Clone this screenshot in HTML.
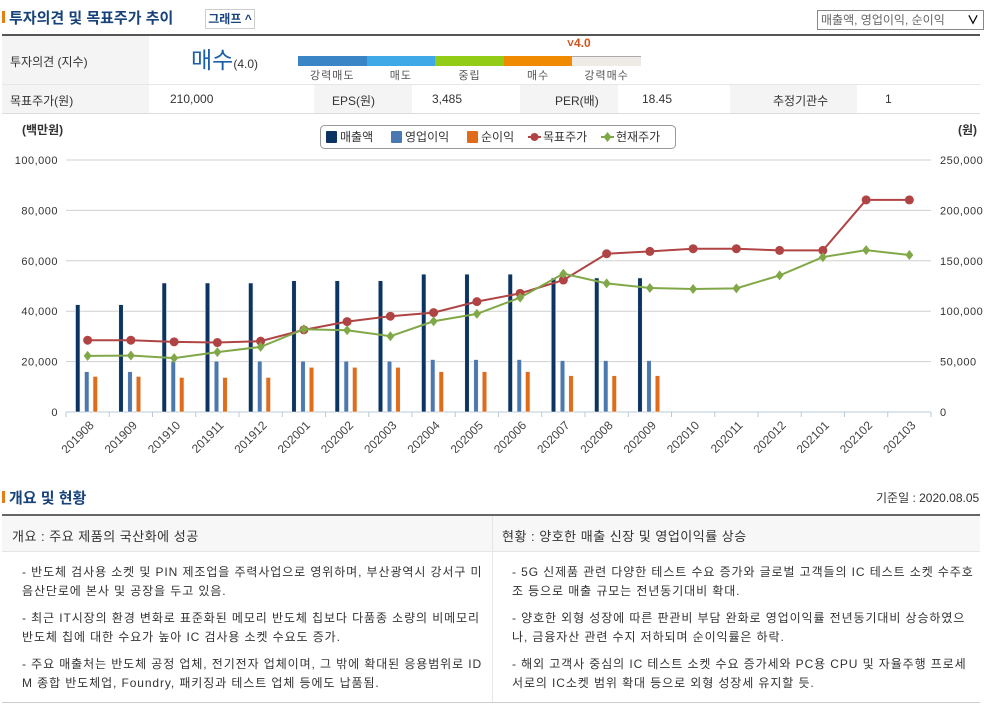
<!DOCTYPE html>
<html><head><meta charset="utf-8">
<style>
body{margin:0;width:985px;height:707px;background:#fff;font-family:"Liberation Sans","Noto Sans CJK KR",sans-serif;color:#333;position:relative;overflow:hidden}
.abs{position:absolute}
.t{font-size:12px;white-space:nowrap}
.h{font-size:15px;color:#17427a;font-weight:bold}
.lbl{background:#f4f4f4}
.body{font-size:12px;line-height:19px;letter-spacing:0.9px;word-break:break-all}
</style></head><body>
<div class="abs" style="left:2px;top:11px;width:3px;height:12px;background:#e57c14"></div>
<div class="abs h" style="left:9px;top:7px">투자의견 및 목표주가 추이</div>
<div class="abs t" style="left:205px;top:9px;width:48px;height:18px;border:1px solid #ccc;font-size:12px;font-weight:bold;color:#17427a;text-align:center;line-height:18px">그래프 ^</div>
<div class="abs t" style="left:817px;top:10px;width:162px;height:18px;border:1px solid #888;color:#666;line-height:18px;padding-left:3px">매출액, 영업이익, 순이익 <span style="position:absolute;right:4px;color:#000;font-weight:bold">∨</span></div>
<div class="abs" style="left:2px;top:34px;width:978px;height:2px;background:#555"></div>
<div class="abs lbl" style="left:2px;top:36px;width:147px;height:48px"></div>
<div class="abs t" style="left:10px;top:53px">투자의견 (지수)</div>
<div class="abs" style="left:191px;top:41px;font-size:23px;color:#1a5fa8">매수<span style="font-size:12px;color:#333">(4.0)</span></div>
<div class="abs" style="left:298px;top:56px;width:343px;height:10px;display:flex">
<div style="flex:1;background:#3a85c6"></div><div style="flex:1;background:#3fa9e8"></div><div style="flex:1;background:#93cc16"></div><div style="flex:1;background:#f08a00"></div><div style="flex:1;background:#eeeae6;border-top:1px solid #aaa"></div></div>
<div class="abs" style="left:567px;top:36px;font-size:12px;font-weight:bold;color:#d3501a">˅4.0</div>
<div class="abs t" style="left:298px;top:67px;width:343px;display:flex;color:#555;font-size:11px;letter-spacing:1px">
<span style="flex:1;text-align:center">강력매도</span><span style="flex:1;text-align:center">매도</span><span style="flex:1;text-align:center">중립</span><span style="flex:1;text-align:center">매수</span><span style="flex:1;text-align:center">강력매수</span></div>
<div class="abs" style="left:2px;top:84px;width:978px;height:1px;background:#e6e6e6"></div>
<div class="abs lbl" style="left:2px;top:85px;width:147px;height:28px"></div>
<div class="abs lbl" style="left:314px;top:85px;width:98px;height:28px"></div>
<div class="abs lbl" style="left:520px;top:85px;width:98px;height:28px"></div>
<div class="abs lbl" style="left:730px;top:85px;width:127px;height:28px"></div>
<div class="abs t" style="left:10px;top:92px">목표주가(원)</div>
<div class="abs t" style="left:170px;top:92px">210,000</div>
<div class="abs t" style="left:332px;top:92px">EPS(원)</div>
<div class="abs t" style="left:432px;top:92px">3,485</div>
<div class="abs t" style="left:555px;top:92px">PER(배)</div>
<div class="abs t" style="left:642px;top:92px">18.45</div>
<div class="abs t" style="left:773px;top:92px">추정기관수</div>
<div class="abs t" style="left:885px;top:92px">1</div>
<div class="abs" style="left:2px;top:113px;width:978px;height:1px;background:#ddd"></div>

<svg class="abs" style="left:0;top:118px" width="985" height="335" id="chart"></svg>

<div class="abs" style="left:2px;top:491px;width:3px;height:12px;background:#e57c14"></div>
<div class="abs h" style="left:9px;top:487px">개요 및 현황</div>
<div class="abs t" style="left:876px;top:489px">기준일 : 2020.08.05</div>
<div class="abs" style="left:2px;top:514px;width:978px;height:2px;background:#666"></div>
<div class="abs" style="left:2px;top:516px;width:978px;height:35px;background:#f7f7f7;border-bottom:1px solid #e6e6e6"></div>
<div class="abs" style="left:492px;top:516px;width:1px;height:186px;background:#e6e6e6"></div>
<div class="abs" style="left:2px;top:702px;width:978px;height:1px;background:#ccc"></div>
<div class="abs t" style="left:12px;top:526px;font-size:13px;letter-spacing:0.5px">개요 : 주요 제품의 국산화에 성공</div>
<div class="abs t" style="left:502px;top:526px;font-size:13px;letter-spacing:0.5px">현황 : 양호한 매출 신장 및 영업이익률 상승</div>
<div class="abs body" style="left:22px;top:563px;width:462px">
<div>- 반도체 검사용 소켓 및 PIN 제조업을 주력사업으로 영위하며, 부산광역시 강서구 미음산단로에 본사 및 공장을 두고 있음.</div>
<div style="margin-top:8px">- 최근 IT시장의 환경 변화로 표준화된 메모리 반도체 칩보다 다품종 소량의 비메모리 반도체 칩에 대한 수요가 높아 IC 검사용 소켓 수요도 증가.</div>
<div style="margin-top:8px">- 주요 매출처는 반도체 공정 업체, 전기전자 업체이며, 그 밖에 확대된 응용범위로 IDM 종합 반도체업, Foundry, 패키징과 테스트 업체 등에도 납품됨.</div></div>
<div class="abs body" style="left:512px;top:563px;width:466px">
<div>- 5G 신제품 관련 다양한 테스트 수요 증가와 글로벌 고객들의 IC 테스트 소켓 수주호조 등으로 매출 규모는 전년동기대비 확대.</div>
<div style="margin-top:8px">- 양호한 외형 성장에 따른 판관비 부담 완화로 영업이익률 전년동기대비 상승하였으나, 금융자산 관련 수지 저하되며 순이익률은 하락.</div>
<div style="margin-top:8px">- 해외 고객사 중심의 IC 테스트 소켓 수요 증가세와 PC용 CPU 및 자율주행 프로세서로의 IC소켓 범위 확대 등으로 외형 성장세 유지할 듯.</div></div>

<script>
const categories=["201908","201909","201910","201911","201912","202001","202002","202003","202004","202005","202006","202007","202008","202009","202010","202011","202012","202101","202102","202103"];
const sales=[42.6,42.6,51.2,51.2,51.2,52.1,52.1,52.1,54.7,54.7,54.7,53.2,53.2,53.2,null,null,null,null,null,null];
const opProfit=[16.0,16.0,20.2,20.2,20.2,20.2,20.2,20.2,20.8,20.8,20.8,20.4,20.4,20.4,null,null,null,null,null,null];
const netProfit=[14.1,14.1,13.7,13.7,13.7,17.7,17.7,17.7,16.0,16.0,16.0,14.4,14.4,14.4,null,null,null,null,null,null];
const targetPrice=[71.2,71.2,69.6,68.9,70.3,81.5,89.7,95.0,98.6,109.5,117.7,130.9,157,159.3,162,162,160.3,160.3,210.4,210.4];
const currentPrice=[55.7,56,53.4,59.4,64.6,82.1,81.1,75.2,90,97.3,113.5,137.2,127.6,123,122,122.7,135.5,153.7,160.6,155.7];
const leftTicks=[0,20000,40000,60000,80000,100000];
const rightTicks=[0,50000,100000,150000,200000,250000];
const NS="http://www.w3.org/2000/svg";
const svg=document.getElementById('chart');
const OY=118,x0=66,x1=931,yT=160-OY,yB=412-OY;
const bw=(x1-x0)/categories.length;
const yL=v=>yB-(v*1000)/100000*(yB-yT);
const yR=v=>yB-(v*1000)/250000*(yB-yT);
function mk(tag,attrs,name){const e=document.createElementNS(NS,tag);for(const k in attrs)e.setAttribute(k,attrs[k]);


svg.appendChild(e);return e;}
function txt(s,attrs,name){const e=mk('text',attrs,name);e.textContent=s;return e;}
txt("(백만원)",{x:22,y:16,'font-size':12,'font-weight':'bold',fill:'#333'},'left-axis-title');
txt("(원)",{x:958,y:16,'font-size':12,'font-weight':'bold',fill:'#333'},'right-axis-title');
leftTicks.forEach((v,i)=>{const y=yB-v/100000*(yB-yT);
mk('line',{x1:x0,x2:x1,y1:y,y2:y,stroke:i==0?'#b8c8d8':'#d0d0d0','stroke-width':1},'gridline');
txt(v.toLocaleString('en-US'),{x:58,y:y+4,'font-size':11,fill:'#333','text-anchor':'end','letter-spacing':0.5},'left-tick-label');
txt(rightTicks[i].toLocaleString('en-US'),{x:940,y:y+4,'font-size':11,fill:'#333','letter-spacing':0.5},'right-tick-label');});
mk('line',{x1:x1,x2:x1,y1:yB,y2:yB+5,stroke:'#b8c8d8'},'x-tick');
categories.forEach((c,i)=>{const cx=x0+i*bw;
mk('line',{x1:cx,x2:cx,y1:yB,y2:yB+5,stroke:'#b8c8d8'},'x-tick');
const lx=cx+bw/2+7,ly=yB+14;
txt(c,{x:lx,y:ly,'font-size':12,fill:'#444','text-anchor':'end',transform:`rotate(-45 ${lx} ${ly})`},'x-tick-label');
[[sales,'#0c3463',9.5,'bar-sales'],[opProfit,'#4a78b0',18.5,'bar-operating-profit'],[netProfit,'#e06c1a',27,'bar-net-profit']].forEach(([arr,col,off,nm])=>{
if(arr[i]==null)return;const y=yL(arr[i]);
mk('rect',{x:cx+off,y:y,width:4.5,height:yB-y,fill:col,stroke:'#f0f0f0','stroke-width':0.6},nm);});});
function line(arr,col,nm,marker){const pts=arr.map((v,i)=>[x0+i*bw+bw/2,yR(v)]);
mk('polyline',{points:pts.map(p=>p.join(',')).join(' '),fill:'none',stroke:col,'stroke-width':2},nm+'-line');
pts.forEach(p=>{if(marker=='c')mk('circle',{cx:p[0],cy:p[1],r:4.5,fill:col},nm+'-point');
else mk('path',{d:`M${p[0]},${p[1]-5}L${p[0]+4},${p[1]}L${p[0]},${p[1]+5}L${p[0]-4},${p[1]}Z`,fill:col},nm+'-point');});}
line(targetPrice,'#b04444','target-price','c');
line(currentPrice,'#80a848','current-price','d');
mk('rect',{x:320.5,y:7.5,width:355,height:23,rx:4,fill:'#fff',stroke:'#999'},'legend');
const leg=[['매출액','#0c3463','s',326],['영업이익','#4a78b0','s',391],['순이익','#e06c1a','s',467],['목표주가','#b04444','c',529],['현재주가','#80a848','d',602]];
leg.forEach(([t,c,m,x])=>{const y=19;
if(m=='s')mk('rect',{x:x,y:y-6,width:11,height:12,fill:c,rx:1},'legend-swatch');
else{mk('line',{x1:x-1,x2:x+12,y1:y,y2:y,stroke:c,'stroke-width':2},'legend-swatch');
if(m=='c')mk('circle',{cx:x+5.5,cy:y,r:4,fill:c},'legend-swatch');else mk('path',{d:`M${x+5.5},${y-5}L${x+9.5},${y}L${x+5.5},${y+5}L${x+1.5},${y}Z`,fill:c},'legend-swatch');}
txt(t,{x:x+14,y:y+4,'font-size':12,fill:'#333'},'legend-entry');});
</script>
</body></html>
